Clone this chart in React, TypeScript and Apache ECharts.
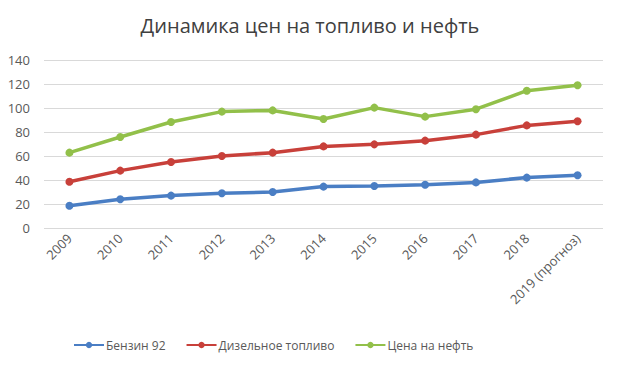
import React, { useEffect, useRef } from "react";
import * as echarts from "echarts";

const categories = ["2009", "2010", "2011", "2012", "2013", "2014", "2015", "2016", "2017", "2018", "2019 (прогноз)"];
const benzin = [18.6, 24, 27, 29, 30, 34.5, 35, 36, 38, 42, 44];
const diesel = [38.6, 47.8, 55, 60, 62.8, 68, 69.7, 72.8, 77.8, 85.5, 89];
const oil = [62.8, 75.8, 88.3, 97, 98, 90.8, 100.3, 92.8, 99, 114.4, 119];
const seriesNames = ["Бензин 92", "Дизельное топливо", "Цена на нефть"];
const colors = ["#4a7ec4", "#c8403a", "#92c04a"];

const FONT = "'Open Sans', 'Noto Sans', sans-serif";

export default function App() {
  const ref = useRef<HTMLDivElement>(null);
  useEffect(() => {
    if (!ref.current) return;
    const chart = echarts.init(ref.current, undefined, { renderer: "svg" });
    const mk = (name: string, data: number[], color: string) => ({
      name,
      type: "line",
      data,
      symbol: "circle",
      symbolSize: 8,
      lineStyle: { width: 3.5, color },
      itemStyle: { color },
      emphasis: { disabled: true },
    });
    chart.setOption({
      animation: false,
      title: {
        text: "Динамика цен на топливо и нефть",
        left: "center",
        top: 10,
        textStyle: { fontFamily: FONT, fontSize: 20, fontWeight: "normal", color: "#404040" },
      },
      legend: {
        bottom: 12,
        left: 68,
        itemWidth: 30,
        itemHeight: 8,
        itemGap: 20,
        textStyle: { fontFamily: FONT, fontSize: 12, color: "#595959", padding: [0, 0, 0, -3] },
        data: seriesNames,
      },
      grid: { left: 44, right: 17, top: 60, bottom: 140, containLabel: false },
      xAxis: {
        type: "category",
        data: categories,
        boundaryGap: true,
        axisLine: { show: false },
        axisTick: { show: false },
        axisLabel: { rotate: 45, fontFamily: FONT, fontSize: 13, color: "#595959", margin: 8, interval: 0 },
      },
      yAxis: {
        type: "value",
        min: 0,
        max: 140,
        interval: 20,
        axisLine: { show: false },
        axisTick: { show: false },
        axisLabel: { fontFamily: FONT, fontSize: 13, color: "#595959", margin: 14 },
        splitLine: { lineStyle: { color: "#d9d9d9", width: 1 } },
      },
      series: [mk(seriesNames[0], benzin, colors[0]), mk(seriesNames[1], diesel, colors[1]), mk(seriesNames[2], oil, colors[2])],
    });
    return () => chart.dispose();
  }, []);
  return <div ref={ref} style={{ width: 620, height: 368, position: "absolute", left: 0, top: 0, background: "#fff" }} />;
}
